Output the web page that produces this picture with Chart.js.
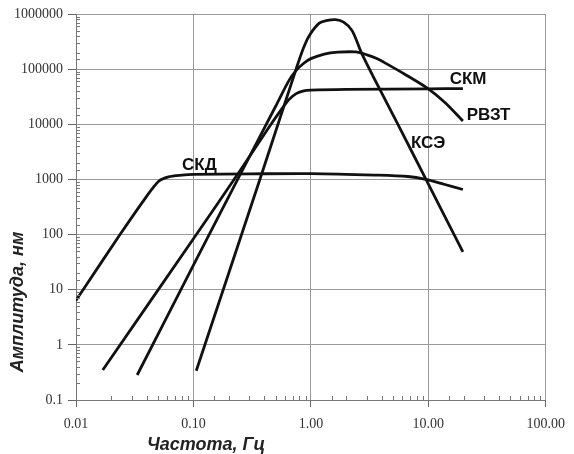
<!DOCTYPE html>
<html>
<head>
<meta charset="utf-8">
<script src="https://cdn.jsdelivr.net/npm/chart.js@4.4.1/dist/chart.umd.min.js"></script>
<style>
  html, body { margin: 0; padding: 0; background: #fff; }
  #wrap { width: 574px; height: 454px; position: relative; }
</style>
</head>
<body>
<div id="wrap"><canvas id="chart"></canvas></div>
<script>
/* --------------- Curves (frequency in Hz, amplitude in nm) --------------- */
const skdFreq = [0.01, 0.0115, 0.0237, 0.0391, 0.0506, 0.0613, 0.08, 0.1, 0.3, 1, 3.5, 6.7, 9.5, 13.6, 19.7];
const skdAmp = [6.4, 10, 100, 464, 930, 1115, 1200, 1235, 1260, 1275, 1200, 1130, 1005, 818, 656];

const skmFreq = [0.0169, 0.1, 0.25, 0.45, 0.55, 0.65, 0.75, 0.87, 1.0, 2.0, 10, 19.7];
const skmAmp = [0.35, 84, 1450, 9500, 17500, 28000, 36000, 40500, 41800, 43000, 44000, 44500];

const rvztFreq = [0.0332, 0.1, 0.251, 0.5, 0.65, 0.75, 0.87, 1.0, 1.3, 1.7, 2.4, 3.0, 3.6, 4.27, 6.3, 10, 14, 19.7];
const rvztAmp = [0.284, 28, 1250, 21000, 62000, 95000, 128000, 155000, 188000, 203000, 205000, 182000, 157000, 130000, 81000, 44000, 24400, 11450];

const kseFreq = [0.1057, 0.383, 0.752, 0.86, 0.971, 1.178, 1.35, 1.626, 1.9, 2.244, 2.69, 3.75, 5.51, 9.53, 19.7];
const kseAmp = [0.34, 1295, 103300, 235000, 409000, 684000, 755000, 789000, 710000, 500000, 200000, 48500, 10000, 1009, 48.6];

/* --------------- Curve names and where they are written --------------- */
const curveNames = ["СКД", "СКМ", "РВЗТ", "КСЭ"];
const labelFreq = [0.1125, 21.8, 32.6, 9.96];
const labelAmp = [1808, 66700, 14550, 4530];

/* --------------- Axes --------------- */
const freqMin = 0.01, freqMax = 100;
const ampMin = 0.1, ampMax = 1000000;
const xTitle = "Частота, Гц";
const yTitle = "Амплитуда, нм";

const isDecade = (v) => Math.abs(Math.log10(v) - Math.round(Math.log10(v))) < 1e-6;
const pairs = (xs, ys) => xs.map((x, i) => ({ x: x, y: ys[i] }));

const lineSet = (xs, ys) => ({
    data: pairs(xs, ys),
    borderColor: "#111",
    borderWidth: 2.8,
    pointRadius: 0,
    fill: false,
    tension: 0.3,
});

/* --------------- Minor ticks, curve labels and axis titles --------------- */
const extras = {
    id: "extras",
    afterDraw(chart) {
        const { ctx, chartArea } = chart;
        const x = chart.scales.x, y = chart.scales.y;
        ctx.save();
        ctx.strokeStyle = "#777";
        ctx.lineWidth = 1;
        ctx.beginPath();
        x.ticks.forEach((t) => {
            if (isDecade(t.value)) return;
            const px = Math.round(x.getPixelForValue(t.value)) + 0.5;
            ctx.moveTo(px, chartArea.bottom);
            ctx.lineTo(px, chartArea.bottom - 4);
        });
        y.ticks.forEach((t) => {
            if (isDecade(t.value)) return;
            const py = Math.round(y.getPixelForValue(t.value)) + 0.5;
            ctx.moveTo(chartArea.left, py);
            ctx.lineTo(chartArea.left + 4, py);
        });
        ctx.stroke();

        ctx.fillStyle = "#111";
        ctx.font = "bold 17px 'Liberation Sans', Arial, sans-serif";
        ctx.textAlign = "center";
        ctx.textBaseline = "middle";
        curveNames.forEach((name, i) => {
            ctx.fillText(name, x.getPixelForValue(labelFreq[i]), y.getPixelForValue(labelAmp[i]));
        });

        ctx.fillStyle = "#222";
        ctx.font = "italic bold 18px 'Liberation Sans', Arial, sans-serif";
        ctx.fillText(xTitle, 206, 445);
        ctx.translate(18, 302);
        ctx.rotate(-Math.PI / 2);
        ctx.fillText(yTitle, 0, 0);
        ctx.restore();
    },
};

const gridColor = (c) => (c.tick && isDecade(c.tick.value) ? "#999" : "rgba(0,0,0,0)");
const tickColor = (c) => (c.tick && isDecade(c.tick.value) ? "#666" : "rgba(0,0,0,0)");

new Chart(document.getElementById("chart"), {
    type: "line",
    data: {
        datasets: [
            lineSet(skdFreq, skdAmp),
            lineSet(skmFreq, skmAmp),
            lineSet(rvztFreq, rvztAmp),
            lineSet(kseFreq, kseAmp),
        ],
    },
    plugins: [extras],
    options: {
        responsive: true,
        maintainAspectRatio: false,
        animation: false,
        layout: { padding: { left: 0, right: 21, top: 14, bottom: 0 } },
        plugins: {
            legend: { display: false },
            tooltip: { enabled: false },
        },
        scales: {
            x: {
                type: "logarithmic",
                min: freqMin,
                max: freqMax,
                afterFit: (scale) => { scale.height = 54; },
                border: { color: "#777", width: 1 },
                grid: { color: gridColor, tickColor: tickColor, tickLength: 7, lineWidth: 1 },
                ticks: {
                    autoSkip: false,
                    maxRotation: 0,
                    minRotation: 0,
                    padding: 9,
                    color: "#333",
                    font: { family: "'Liberation Serif', 'Times New Roman', serif", size: 14 },
                    callback: (v) => (isDecade(v) ? Number(v).toFixed(2) : ""),
                },
            },
            y: {
                type: "logarithmic",
                min: ampMin,
                max: ampMax,
                afterFit: (scale) => { scale.width = 76; },
                border: { color: "#777", width: 1 },
                grid: { color: gridColor, tickColor: tickColor, tickLength: 8, lineWidth: 1 },
                ticks: {
                    autoSkip: false,
                    padding: 5,
                    color: "#333",
                    font: { family: "'Liberation Serif', 'Times New Roman', serif", size: 14 },
                    callback: (v) => (isDecade(v) ? String(+Number(v).toPrecision(1)) : ""),
                },
            },
        },
    },
});
</script>
</body>
</html>
